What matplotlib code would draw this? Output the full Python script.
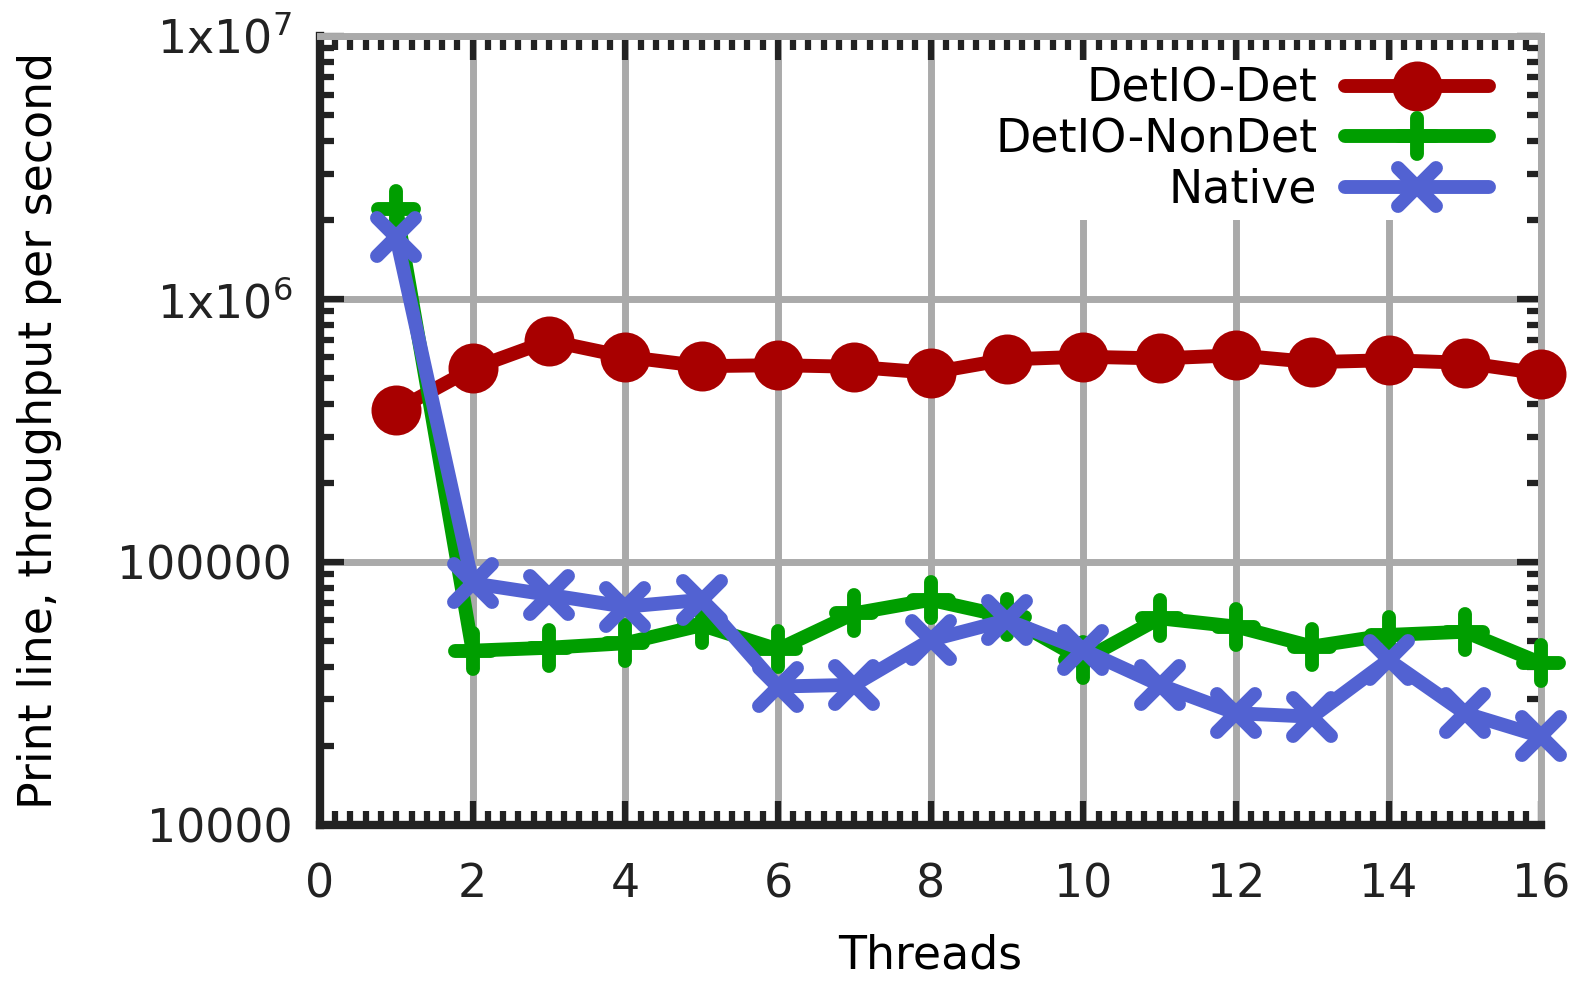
import matplotlib
matplotlib.use('Agg')
from matplotlib import pyplot
from matplotlib.markers import MarkerStyle
from matplotlib.ticker import FixedLocator, FixedFormatter, LogLocator, MultipleLocator, NullFormatter

threads = [1, 2, 3, 4, 5, 6, 7, 8, 9, 10, 11, 12, 13, 14, 15, 16]
detio_det = [379000, 545000, 695000, 604000, 556000, 561000, 553000, 525000,
             590000, 604000, 595000, 612000, 576000, 586000, 573000, 521000]
detio_nondet = [2200000, 46000, 47200, 49100, 57500, 46500, 63800, 71800,
                61900, 42400, 61100, 56800, 47700, 52800, 54300, 41200]
native = [1720000, 83000, 75000, 67600, 71800, 33600, 34100, 50500,
          60100, 46300, 34100, 26600, 25800, 42400, 26600, 21700]

y_ticks = [1e4, 1e5, 1e6, 1e7]
y_labels = ['10000', '100000', '1x10$^{6}$', '1x10$^{7}$']

RED = '#a80000'
GREEN = '#009e00'
BLUE = '#5262d2'
GRID = '#aaaaaa'
INK = '#222222'
FS = 33

fig = pyplot.figure(figsize=(15.84, 9.82), dpi=100)
ax = fig.add_axes([0.202, 0.160, 0.771, 0.803])

common = dict(lw=10, solid_capstyle='round', solid_joinstyle='round', clip_on=False)
ax.plot(threads, detio_det, color=RED, marker='o', ms=34, mec=RED, mew=2,
        label='DetIO-Det', zorder=3, **common)
ax.plot(threads, detio_nondet, color=GREEN, marker=MarkerStyle('+', capstyle='round'),
        ms=26, mew=10, label='DetIO-NonDet', zorder=4, **common)
ax.plot(threads, native, color=BLUE, marker=MarkerStyle('x', capstyle='round'),
        ms=28, mew=10, label='Native', zorder=5, **common)

ax.set_yscale('log')
ax.set_xlim(0, 16)
ax.set_ylim(1e4, 1e7)

ax.xaxis.set_major_locator(MultipleLocator(2))
ax.xaxis.set_minor_locator(MultipleLocator(0.2))
ax.yaxis.set_major_locator(FixedLocator(y_ticks))
ax.yaxis.set_major_formatter(FixedFormatter(y_labels))
ax.yaxis.set_minor_locator(LogLocator(base=10, subs=range(2, 10)))
ax.yaxis.set_minor_formatter(NullFormatter())

ax.grid(True, which='major', color=GRID, lw=5)
ax.set_axisbelow(True)

for side in ['left', 'bottom']:
    ax.spines[side].set_color(INK)
    ax.spines[side].set_linewidth(6)
for side in ['top', 'right']:
    ax.spines[side].set_color(GRID)
    ax.spines[side].set_linewidth(5)

ax.tick_params(which='both', direction='in', top=True, right=True,
               color=INK, width=4.5, labelsize=FS, labelcolor=INK)
ax.tick_params(which='major', length=17)
ax.tick_params(which='minor', length=10)
ax.tick_params(axis='x', pad=27)
ax.tick_params(axis='y', pad=20)

ax.set_xlabel('Threads', fontsize=FS, labelpad=19)
ax.set_ylabel('Print line, throughput per second', fontsize=FS, labelpad=40)

leg = ax.legend(loc='upper right', bbox_to_anchor=(0.963, 0.970), fontsize=FS,
                markerfirst=False, numpoints=1, handlelength=3.14, handletextpad=0.61,
                labelspacing=0.12, borderpad=0.15, borderaxespad=0,
                frameon=True, fancybox=False, framealpha=1, edgecolor='none',
                facecolor='white')

fig.savefig('out.png', dpi=100)
